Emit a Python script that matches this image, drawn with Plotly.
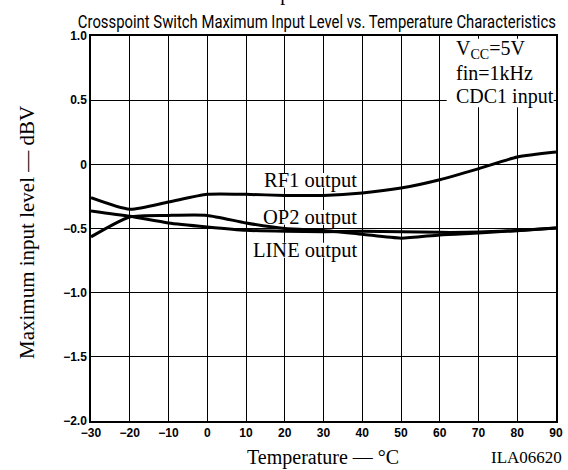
import plotly.graph_objects as go

temperature = [-30, -20, -10, 0, 10, 20, 30, 40, 50, 60, 70, 80, 90]
rf1_output = [-0.26, -0.35, -0.294, -0.234, -0.234, -0.242, -0.242, -0.223, -0.185, -0.12, -0.034, 0.057, 0.096]
op2_output = [-0.565, -0.41, -0.398, -0.398, -0.457, -0.50, -0.515, -0.545, -0.575, -0.55, -0.535, -0.517, -0.497]
line_output = [-0.363, -0.405, -0.457, -0.488, -0.514, -0.522, -0.525, -0.522, -0.525, -0.53, -0.528, -0.515, -0.497]

x_ticks = [-30, -20, -10, 0, 10, 20, 30, 40, 50, 60, 70, 80, 90]
y_ticks = [1.0, 0.5, 0, -0.5, -1.0, -1.5, -2.0]
y_tick_text = ["1.0", "0.5", "0", "\u22120.5", "\u22121.0", "\u22121.5", "\u22122.0"]
x_tick_text = [("\u2212" + str(-v)) if v < 0 else str(v) for v in x_ticks]

curve_labels = ["RF1 output", "OP2 output", "LINE output"]

serif = "Liberation Serif, Times New Roman, serif"
sans_bold = "Liberation Sans, Arial, sans-serif"
narrow = "Roboto, Liberation Sans, sans-serif"

fig = go.Figure()
for name, ys in zip(curve_labels, (rf1_output, op2_output, line_output)):
    fig.add_trace(go.Scatter(x=temperature, y=ys, mode="lines", name=name,
                             line=dict(color="black", width=3, shape="spline", smoothing=0.6),
                             showlegend=False, hoverinfo="skip"))

axis_common = dict(showgrid=True, gridcolor="black", gridwidth=1,
                   showline=True, linecolor="black", linewidth=1.5, mirror=True,
                   zeroline=False, ticks="", ticklen=0, automargin=False,
                   tickfont=dict(family=sans_bold, size=12, color="black", weight="bold"))

fig.update_layout(
    width=568, height=470,
    margin=dict(l=91, r=12, t=36, b=49, autoexpand=False),
    paper_bgcolor="white", plot_bgcolor="white",
    showlegend=False,
    xaxis=dict(range=[-30, 90], tickvals=x_ticks, ticktext=x_tick_text, **axis_common),
    yaxis=dict(range=[-2.0, 1.0], tickvals=y_ticks, ticktext=y_tick_text, **axis_common),
)

# white box behind the condition text (hides grid lines)
fig.add_shape(type="rect", xref="paper", yref="paper", x0=0.765, x1=0.995, y0=0.815, y1=0.993,
              fillcolor="white", line=dict(width=0), layer="above")

# tight white backgrounds behind the curve labels: above the grid, below the curves
label_y = [-0.125, -0.413, -0.67]
label_left = [14.4, 15.2, 12.2]
label_right_x = 38.9
half_h = 0.058
for yy, x0 in zip(label_y, label_left):
    fig.add_shape(type="rect", xref="x", yref="y", x0=x0, x1=label_right_x + 0.3,
                  y0=yy - half_h, y1=yy + half_h, fillcolor="white",
                  line=dict(width=0), layer="between")

ann = []
ann.append(dict(text="Crosspoint Switch Maximum Input Level vs. Temperature Characteristics",
                xref="paper", yref="paper", x=0.5, y=1, xshift=-6.5, yshift=15,
                xanchor="center", yanchor="middle", showarrow=False,
                font=dict(family=narrow, size=19, color="black")))
ann.append(dict(text="Temperature \u2014 \u00b0C", xref="paper", yref="paper", x=0.5, y=1,
                xshift=-3, yshift=29, xanchor="center", yanchor="bottom", showarrow=False,
                font=dict(family=serif, size=20, color="black")))
ann.append(dict(text="Temperature \u2014 \u00b0C", xref="paper", yref="paper", x=0.5, y=0,
                xshift=-1, yshift=-36, xanchor="center", yanchor="middle", showarrow=False,
                font=dict(family=serif, size=20, color="black")))
ann.append(dict(text="ILA06620", xref="paper", yref="paper", x=0.9376, y=0,
                yshift=-36, xanchor="center", yanchor="middle", showarrow=False,
                font=dict(family=serif, size=17, color="black")))
ann.append(dict(text="Maximum input level \u2014 dBV", xref="paper", yref="paper", x=0, y=0.5,
                xshift=-64, yshift=-4.5, xanchor="center", yanchor="middle", textangle=-90,
                showarrow=False, font=dict(family=serif, size=21, color="black")))
box_lines = ["V<sub>CC</sub>=5V", "fin=1kHz", "CDC1 input"]
box_y = [0.966, 0.904, 0.842]
for t, yy in zip(box_lines, box_y):
    ann.append(dict(text=t, xref="paper", yref="paper", x=0.783, y=yy, xanchor="left",
                    yanchor="middle", showarrow=False, borderpad=0,
                    font=dict(family=serif, size=20, color="black")))
for t, yy in zip(curve_labels, label_y):
    ann.append(dict(text=t, x=label_right_x, y=yy, xref="x", yref="y", xanchor="right",
                    yanchor="middle", showarrow=False, borderpad=0,
                    font=dict(family=serif, size=20.5, color="black")))
fig.update_layout(annotations=ann)

post = """
document.body.style.margin = '0';
try {
  var W = 478;
  var texts = document.querySelectorAll('text.annotation-text');
  for (var i = 0; i < texts.length; i++) {
    var t = texts[i];
    if (t.textContent.indexOf('Crosspoint') === 0) {
      t.setAttribute('textLength', String(W));
      t.setAttribute('lengthAdjust', 'spacingAndGlyphs');
      var g = t.parentNode;
      var rect = g.querySelector('rect.bg');
      var oldW = parseFloat(rect.getAttribute('width'));
      var newW = W + 4;
      var d = (oldW - newW) / 2;
      var m = /translate\\(\\s*([-\\d.e]+)[\\s,]+([-\\d.e]+)\\s*\\)/.exec(g.getAttribute('transform') || '');
      if (m && oldW > newW) {
        g.setAttribute('transform', 'translate(' + (parseFloat(m[1]) + d) + ',' + m[2] + ')');
        rect.setAttribute('width', String(newW));
        var ox = parseFloat(t.getAttribute('x'));
        if (!isNaN(ox)) { t.setAttribute('x', String(ox - d)); }
      }
    }
  }
} catch (e) {}
"""

fig.write_html("out.html", post_script=post, config={"displayModeBar": False})
